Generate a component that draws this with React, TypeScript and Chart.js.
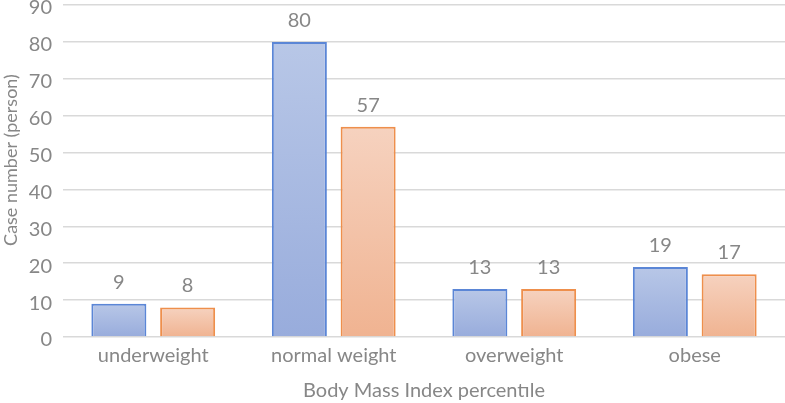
import React, { useEffect, useRef } from "react";
import { Chart, registerables } from "chart.js";

Chart.register(...registerables);

const categories = ["underweight", "normal weight", "overweight", "obese"];
const seriesA = [9, 80, 13, 19];
const seriesB = [8, 57, 13, 17];
const yTicks = [0, 10, 20, 30, 40, 50, 60, 70, 80, 90];
const xTitle = "Body Mass Index percentıle";
const yTitle = "Case number (person)";

const FONT = "Lato, 'Open Sans', sans-serif";
const GRAY = "#878787";
const FS = 20;

function gradientFor(top: string, bottom: string) {
  return (ctx: any) => {
    const chart = ctx.chart;
    const y = chart.scales?.y;
    if (!chart.chartArea || !y || ctx.type !== "data") return top;
    const v = ctx.parsed?.y ?? 0;
    const y0 = y.getPixelForValue(v);
    const y1 = y.getPixelForValue(0);
    const g = chart.ctx.createLinearGradient(0, y0, 0, y1 === y0 ? y0 + 1 : y1);
    g.addColorStop(0, top);
    g.addColorStop(1, bottom);
    return g;
  };
}

const labelPlugin = {
  id: "valueLabels",
  afterDatasetsDraw(chart: any) {
    const ctx = chart.ctx;
    ctx.save();
    ctx.font = `${FS}px ${FONT}`;
    ctx.fillStyle = GRAY;
    ctx.textAlign = "center";
    ctx.textBaseline = "alphabetic";
    chart.data.datasets.forEach((ds: any, i: number) => {
      const meta = chart.getDatasetMeta(i);
      meta.data.forEach((el: any, j: number) => {
        ctx.fillText(String(ds.data[j]), el.x, el.y - 15);
      });
    });
    const area = chart.chartArea;
    // y tick labels
    const yScale = chart.scales.y;
    ctx.textAlign = "right";
    ctx.textBaseline = "middle";
    yTicks.forEach((v) => {
      ctx.fillText(String(v), area.left - 11, yScale.getPixelForValue(v) + 3);
    });
    // axis titles
    ctx.textAlign = "center";
    ctx.textBaseline = "alphabetic";
    ctx.fillText(xTitle, (area.left + area.right) / 2, 397);
    ctx.font = `18px ${FONT}`;
    ctx.textBaseline = "middle";
    ctx.translate(11, 160);
    ctx.rotate(-Math.PI / 2);
    ctx.fillText(yTitle, 0, 0);
    ctx.restore();
  },
};

export default function App() {
  const ref = useRef<HTMLCanvasElement | null>(null);
  useEffect(() => {
    document.body.style.margin = "0";
    if (!ref.current) return;
    const chart = new Chart(ref.current, {
      type: "bar",
      data: {
        labels: categories,
        datasets: [
          {
            label: "A",
            data: seriesA,
            backgroundColor: gradientFor("#b8c7e7", "#98acdc"),
            borderColor: "#5b86d6",
            borderWidth: 2,
            categoryPercentage: 0.762,
            barPercentage: 0.8,
          },
          {
            label: "B",
            data: seriesB,
            backgroundColor: gradientFor("#f6d2bf", "#f0b391"),
            borderColor: "#ee8f4c",
            borderWidth: 2,
            categoryPercentage: 0.762,
            barPercentage: 0.8,
          },
        ],
      },
      options: {
        animation: false,
        responsive: false,
        maintainAspectRatio: false,
        layout: { padding: { top: 5, right: 0, left: 0, bottom: 36 } },
        plugins: { legend: { display: false }, tooltip: { enabled: false } },
        scales: {
          x: {
            grid: { display: false, drawTicks: false },
            border: { display: false },
            ticks: { color: GRAY, font: { family: FONT, size: FS }, padding: 7, maxRotation: 0 },
            afterFit: (axis: any) => {
              axis.height = 30;
            },
          },
          y: {
            min: 0,
            max: 90,
            afterBuildTicks: (axis: any) => {
              axis.ticks = yTicks.map((v) => ({ value: v }));
            },
            afterFit: (axis: any) => {
              axis.width = 63;
              axis.paddingTop = 0;
              axis.paddingBottom = 0;
            },
            grid: { color: "#d9d9d9", lineWidth: 1.5, drawTicks: false },
            border: { display: false },
            ticks: { display: false },
          },
        },
      },
      plugins: [labelPlugin],
    });
    return () => chart.destroy();
  }, []);
  return (
    <div style={{ position: "fixed", left: 0, top: 0, width: 785, height: 403, background: "#fff" }}>
      <canvas ref={ref} width={785} height={403} style={{ width: 785, height: 403 }} />
    </div>
  );
}
